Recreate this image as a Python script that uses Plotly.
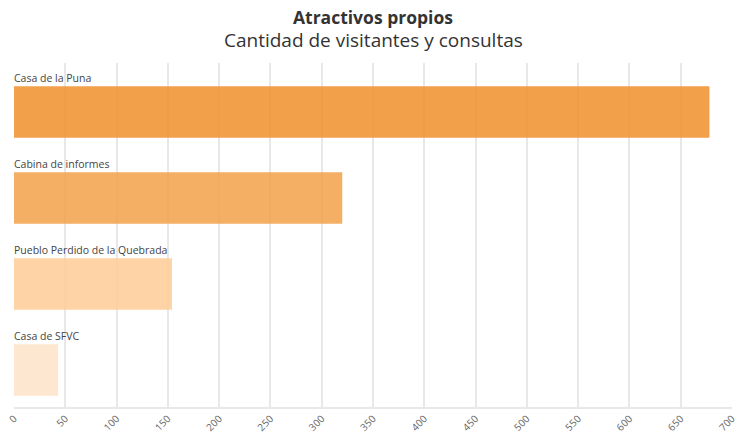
import plotly.graph_objects as go

# data
categories = ["Casa de la Puna", "Cabina de informes", "Pueblo Perdido de la Quebrada", "Casa de SFVC"]
visits = [678, 320, 154, 43]
bar_colors = ["rgb(241,143,42)", "rgb(243,161,73)", "rgb(254,203,150)", "rgb(254,227,200)"]
x_ticks = list(range(0, 701, 50))

positions = list(range(len(categories)))
bar_width = 0.6
font_family = "Open Sans, sans-serif"

fig = go.Figure()
fig.add_trace(go.Bar(
    x=visits,
    y=positions,
    orientation="h",
    width=bar_width,
    marker=dict(color=bar_colors, opacity=0.85, line=dict(width=0)),
    hovertext=categories,
    showlegend=False,
))

# category labels sit above each bar, left aligned
for pos, name in zip(positions, categories):
    fig.add_annotation(
        x=0, y=pos - bar_width / 2,
        xref="x", yref="y",
        text=name, showarrow=False,
        xanchor="left", yanchor="bottom",
        xshift=-2, yshift=-1,
        font=dict(family=font_family, size=10.5, color="#444"),
    )

# title and subtitle
fig.add_annotation(
    x=0.5, y=17, xref="paper", yref="paper",
    text="<b>Atractivos propios</b>", showarrow=False,
    xanchor="center", yanchor="middle",
    font=dict(family=font_family, size=17.5, color="#333"),
)
fig.add_annotation(
    x=0.5, y=40, xref="paper", yref="paper",
    text="Cantidad de visitantes y consultas", showarrow=False,
    xanchor="center", yanchor="middle",
    font=dict(family=font_family, size=19, color="#333"),
)

fig.update_layout(
    width=735, height=433,
    margin=dict(l=14, r=3, t=63, b=26),
    plot_bgcolor="white",
    paper_bgcolor="white",
    xaxis=dict(
        range=[0, 700],
        tickvals=x_ticks,
        tickangle=-45,
        tickfont=dict(family=font_family, size=10, color="#666"),
        ticklabeloverflow="allow",
        showgrid=True, gridcolor="#e8e8e8", gridwidth=2,
        zeroline=False,
        showline=True, linecolor="#e8e8e8", linewidth=2,
        automargin=False,
    ),
    yaxis=dict(
        range=[3.43, -0.57],
        showticklabels=False,
        showgrid=False,
        zeroline=False,
        automargin=False,
    ),
)

# paper-relative pixel positions for the title lines
plot_h = 433 - 63 - 26
for ann in fig.layout.annotations[-2:]:
    ann.y = (433 - 26 - ann.y) / plot_h

fig.write_html(
    "out.html",
    config={"displayModeBar": False},
    post_script="document.body.style.margin='0';",
)
